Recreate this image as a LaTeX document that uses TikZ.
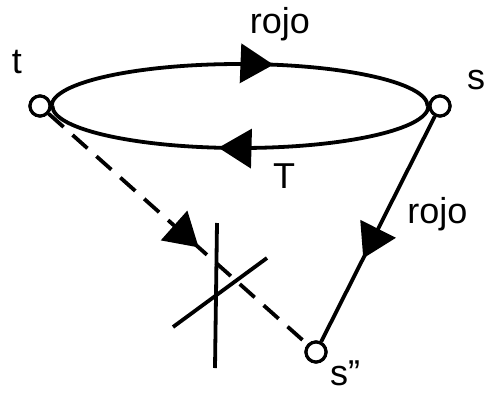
\documentclass[tikz,border=0pt]{standalone}
\usepackage{fontspec}
\setmainfont{Liberation Sans}
\usetikzlibrary{arrows.meta,decorations.markings}
\begin{document}
\begin{tikzpicture}[x=1pt,y=-1pt,
  vtx/.style={circle,draw,fill=white,line width=3.2pt,minimum size=20pt,inner sep=0pt},
  lbl/.style={inner sep=0pt,font=\fontsize{36}{44}\selectfont},
  edge/.style={line width=3.8pt},
  midarrow/.style={postaction={decorate},decoration={markings,
     mark=at position #1 with {\arrow{Triangle[length=33pt,width=39pt]}}}},
  dashline/.style={dash pattern=on 20pt off 12pt}]
\useasboundingbox (0,0) rectangle (488,392);
% vertices
\node[vtx] (t) at (40,106) {};
\node[vtx] (s) at (440,106) {};
\node[vtx] (s2) at (316,352) {};
% ellipse halves
\draw[edge,midarrow=0.585] (t.east) arc[start angle=180,end angle=360,x radius=188,y radius=42];
\draw[edge,midarrow=0.555] (s.west) arc[start angle=0,end angle=180,x radius=188,y radius=42];
% s -> s''
\draw[edge,midarrow=0.63] (s) -- (s2);
% dashed t -> s''
\draw[edge,dashline,midarrow=0.58] (t) -- (s2);
% cross
\coordinate (v1) at (217,223);
\coordinate (v2) at (215,368);
\coordinate (d1) at (173,327);
\coordinate (d2) at (267,258);
\draw[edge] (v1) -- (v2);
\draw[edge] (d1) -- (d2);
% redraw vertices on top
\node[vtx] at (t) {};
\node[vtx] at (s) {};
\node[vtx] at (s2) {};
% labels
\node[lbl,anchor=base] (lt) at (17,73) {t};
\node[lbl,anchor=base] (ls) at (476,89) {s};
\node[lbl,anchor=base] (lrojo1) at (280,33) {rojo};
\node[lbl,anchor=base] (lT) at (284,188) {T};
\node[lbl,anchor=base] (lrojo2) at (437.5,223) {rojo};
\node[lbl,anchor=base west] (ls2) at (330,385) {s''};
\end{tikzpicture}
\end{document}
